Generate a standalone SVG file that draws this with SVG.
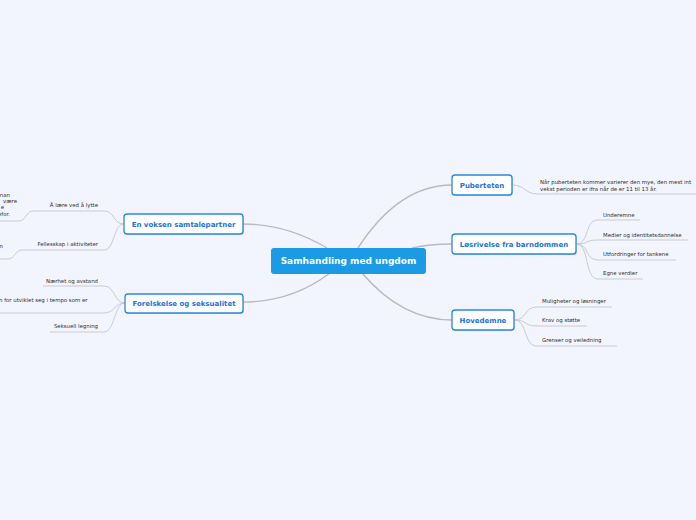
<svg xmlns="http://www.w3.org/2000/svg" width="696" height="520" viewBox="0 0 696 520">
<style>
.bg{fill:#f2f5fd}
.main{stroke:#b9b9c2;stroke-width:1.4;fill:none}
.sub{stroke:#c9cad3;stroke-width:1;fill:none}
.box{fill:#ffffff;stroke:#2a86e2;stroke-width:1.3}
.shadow{fill:#c9d3e6}
.nt{font-family:"DejaVu Sans",Verdana,sans-serif;font-weight:bold;font-size:7px;fill:#1a74d6;text-anchor:middle}
.ct{font-family:"DejaVu Sans",Verdana,sans-serif;font-weight:bold;font-size:9px;fill:#ffffff;text-anchor:middle}
.lt{font-family:"DejaVu Sans",Verdana,sans-serif;font-size:5.4px;fill:#2e2e2e}
.le{font-family:"DejaVu Sans",Verdana,sans-serif;font-size:5.4px;fill:#2e2e2e;text-anchor:end}
</style>
<rect class="bg" x="0" y="0" width="696" height="520"/>
<g id="connectors">
<path class="main" d="M358,248 C380,214 410,185 452,185"/>
<path class="main" d="M412,248 C425,245 440,244 452,244"/>
<path class="main" d="M362,273 C385,300 415,320 452,320"/>
<path class="main" d="M327,248 C300,232 272,224 243,224"/>
<path class="main" d="M330,273 C305,292 275,302 243,302"/>
<path class="sub" d="M512,185 C526,185 524,194 538,194 H696"/>
<path class="sub" d="M576,244 C590,244 584,220 598,220 H640"/>
<path class="sub" d="M576,244 C590,244 584,240 598,240 H688"/>
<path class="sub" d="M576,244 C590,244 584,260 598,260 H676"/>
<path class="sub" d="M576,244 C590,244 584,279 598,279 H643"/>
<path class="sub" d="M514,320 C528,320 523,307 537,307 H612"/>
<path class="sub" d="M514,320 C528,320 523,326 537,326 H587"/>
<path class="sub" d="M514,320 C528,320 523,346 537,346 H617"/>
<path class="sub" d="M124,224 C113,224 115,211 104,211 H33"/>
<path class="sub" d="M33,211 C26,211 26,221 19,221 H0"/>
<path class="sub" d="M124,224 C113,224 115,250 104,250 H22"/>
<path class="sub" d="M22,250 C15,250 15,259 8,259 H0"/>
<path class="sub" d="M125,303 C114,303 115,286 104,286 H43"/>
<path class="sub" d="M125,303 C114,303 115,313 104,313 H0"/>
<path class="sub" d="M125,303 C114,303 115,332 104,332 H50"/>
</g>
<g id="center">
<rect x="271" y="248" width="155" height="26" rx="3" fill="#1b9ae6"/>
<text class="ct" x="348.5" y="264">Samhandling med ungdom</text>
</g>
<g id="puberteten">
<rect class="shadow" x="453" y="176" width="60" height="20" rx="3"/>
<rect class="box" x="452" y="175" width="60" height="20" rx="3"/>
<text class="nt" x="482" y="187.5">Puberteten</text>
</g>
<g id="losrivelse">
<rect class="shadow" x="453" y="235" width="124" height="20" rx="3"/>
<rect class="box" x="452" y="234" width="124" height="20" rx="3"/>
<text class="nt" x="514" y="246.5">Løsrivelse fra barndommen</text>
</g>
<g id="hovedemne">
<rect class="shadow" x="453" y="311" width="62" height="20" rx="3"/>
<rect class="box" x="452" y="310" width="62" height="20" rx="3"/>
<text class="nt" x="483" y="322.5">Hovedemne</text>
</g>
<g id="voksen">
<rect class="shadow" x="125" y="215" width="119" height="20" rx="3"/>
<rect class="box" x="124" y="214" width="119" height="20" rx="3"/>
<text class="nt" x="183.5" y="226.5">En voksen samtalepartner</text>
</g>
<g id="forelskelse">
<rect class="shadow" x="126" y="295" width="118" height="19" rx="3"/>
<rect class="box" x="125" y="294" width="118" height="19" rx="3"/>
<text class="nt" x="184" y="306">Forelskelse og seksualitet</text>
</g>
<g id="pub-text">
<text class="lt" x="540" y="184">Når puberteten kommer varierer den mye, den mest int</text>
<text class="lt" x="540" y="190.5">vekst perioden er ifra når de er 11 til 13 år.</text>
</g>
<g id="underemne"><text class="lt" x="603" y="216.5">Underemne</text></g>
<g id="medier"><text class="lt" x="603" y="236.5">Medier og identitetsdannelse</text></g>
<g id="utfordringer"><text class="lt" x="603" y="256">Utfordringer for tankene</text></g>
<g id="egne"><text class="lt" x="603" y="275">Egne verdier</text></g>
<g id="muligheter"><text class="lt" x="542" y="303">Muligheter og løsninger</text></g>
<g id="krav"><text class="lt" x="542" y="322">Krav og støtte</text></g>
<g id="grenser"><text class="lt" x="542" y="342">Grenser og veiledning</text></g>
<g id="lytte"><text class="le" x="98" y="207">Å lære ved å lytte</text></g>
<g id="lytte-child">
<text class="le" x="10" y="197">nan</text>
<text class="le" x="17" y="203">være</text>
<text class="le" x="4" y="209">e</text>
<text class="le" x="10" y="215.5">efor.</text>
</g>
<g id="fellesskap"><text class="le" x="98" y="246">Fellesskap i aktiviteter</text></g>
<g id="fellesskap-child"><text class="le" x="3" y="248">n</text></g>
<g id="naerhet"><text class="le" x="98" y="283">Nærhet og avstand</text></g>
<g id="tempo"><text class="lt" x="-1" y="301.5">n for utviklet seg i tempo som er</text></g>
<g id="legning"><text class="le" x="98" y="328">Seksuell legning</text></g>
</svg>
